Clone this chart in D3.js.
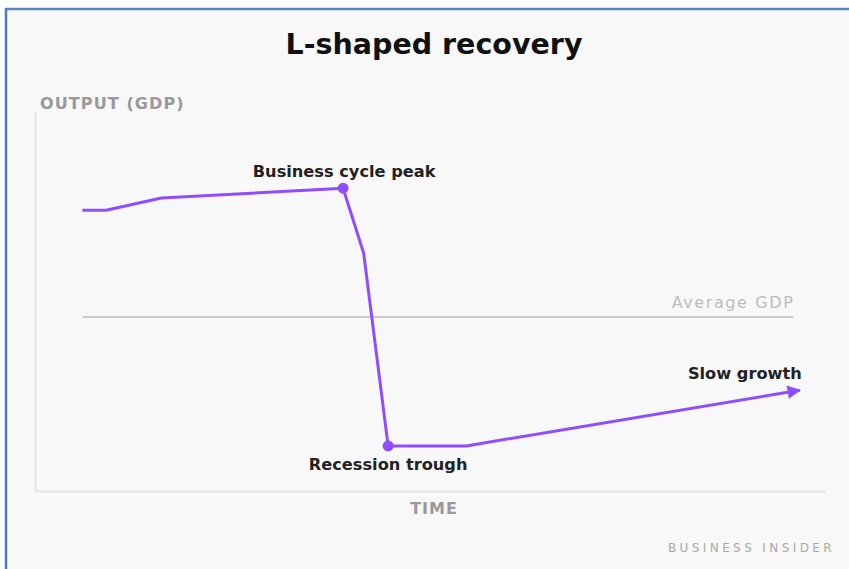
<!DOCTYPE html>
<html>
<head>
<meta charset="utf-8">
<script src="https://cdnjs.cloudflare.com/ajax/libs/d3/7.8.5/d3.min.js"></script>
<style>
  html, body { margin: 0; padding: 0; background: #fff; }
  svg { display: block; }
</style>
</head>
<body>
<div id="chart"></div>
<script>
// time runs 0..100 along the axis, output (GDP) 0..100 up the axis
var timeValues = [6, 9, 16, 39, 41.6, 44.7, 54.6, 96.8];
var gdpValues = [74.1, 74.1, 77.3, 79.9, 62.8, 11.9, 11.9, 26.6];
var averageGdp = 45.9;
var averageSpan = [6, 96];
var peakIndex = 3;
var troughIndex = 5;
var titleText = 'L-shaped recovery';
var yLabel = 'OUTPUT (GDP)';
var xLabel = 'TIME';
var sourceText = 'BUSINESS INSIDER';

var width = 849, height = 569;
var purple = '#8f4dff';
var fontFam = '"DejaVu Sans", sans-serif';

var svg = d3.select('#chart').append('svg')
  .attr('width', width).attr('height', height);

// frame of the screenshot
svg.append('rect').attr('x', 5).attr('y', 8).attr('width', width - 5).attr('height', height - 8)
  .attr('fill', '#f8f8f8');
svg.append('line').attr('x1', 5).attr('x2', width).attr('y1', 9).attr('y2', 9)
  .attr('stroke', '#5b86c4').attr('stroke-width', 2.5);
svg.append('line').attr('x1', 6).attr('x2', 6).attr('y1', 8).attr('y2', height)
  .attr('stroke', '#4a7cc0').attr('stroke-width', 2.5);

var x = d3.scaleLinear().domain([0, 100]).range([35, 825]);
var y = d3.scaleLinear().domain([0, 100]).range([491, 112]);

var points = timeValues.map(function (t, i) { return [t, gdpValues[i]]; });

// axes drawn as plain lines, no ticks
svg.append('g').attr('transform', 'translate(0,' + y(0) + ')')
  .call(d3.axisBottom(x).ticks(0).tickSize(0))
  .call(function (g) { g.select('.domain').attr('stroke', '#e4e4e4').attr('stroke-width', 2); });
svg.append('g').attr('transform', 'translate(' + x(0) + ',0)')
  .call(d3.axisLeft(y).ticks(0).tickSize(0))
  .call(function (g) { g.select('.domain').attr('stroke', '#e4e4e4').attr('stroke-width', 2); });

// average GDP reference line
svg.append('line')
  .attr('x1', x(averageSpan[0])).attr('x2', x(averageSpan[1]))
  .attr('y1', y(averageGdp)).attr('y2', y(averageGdp))
  .attr('stroke', '#bdbdbd').attr('stroke-width', 1.5);
svg.append('text')
  .attr('x', x(averageSpan[1]) + 1).attr('y', y(averageGdp) - 9)
  .attr('text-anchor', 'end')
  .style('font', '500 16px ' + fontFam)
  .style('letter-spacing', '1.6px')
  .attr('fill', '#bdbdbd')
  .text('Average GDP');

// arrow head
svg.append('defs').append('marker')
  .attr('id', 'arrow').attr('viewBox', '0 0 10 10')
  .attr('refX', 9).attr('refY', 5)
  .attr('markerWidth', 5).attr('markerHeight', 4.5)
  .attr('markerUnits', 'strokeWidth')
  .attr('orient', 'auto')
  .append('path').attr('d', 'M0,0L10,5L0,10Z').attr('fill', purple);

var line = d3.line().x(function (d) { return x(d[0]); }).y(function (d) { return y(d[1]); });

svg.append('path')
  .datum(points)
  .attr('d', line)
  .attr('fill', 'none')
  .attr('stroke', purple)
  .attr('stroke-width', 3)
  .attr('stroke-linejoin', 'round')
  .attr('marker-end', 'url(#arrow)');

svg.selectAll('circle.dot')
  .data([points[peakIndex], points[troughIndex]])
  .enter().append('circle')
  .attr('class', 'dot')
  .attr('cx', function (d) { return x(d[0]); })
  .attr('cy', function (d) { return y(d[1]); })
  .attr('r', 5.5)
  .attr('fill', purple);

var labelFont = 'bold 16.2px ' + fontFam;
svg.append('text')
  .attr('x', x(points[peakIndex][0]) + 1).attr('y', y(points[peakIndex][1]) - 11)
  .attr('text-anchor', 'middle').style('font', labelFont).attr('fill', '#222')
  .text('Business cycle peak');
svg.append('text')
  .attr('x', x(points[troughIndex][0])).attr('y', y(points[troughIndex][1]) + 24)
  .attr('text-anchor', 'middle').style('font', labelFont).attr('fill', '#222')
  .text('Recession trough');
var last = points[points.length - 1];
svg.append('text')
  .attr('x', x(last[0]) + 2).attr('y', y(last[1]) - 11)
  .attr('text-anchor', 'end').style('font', labelFont).attr('fill', '#222')
  .text('Slow growth');

// titles
svg.append('text')
  .attr('x', 434).attr('y', 54)
  .attr('text-anchor', 'middle')
  .style('font', 'bold 28.5px ' + fontFam)
  .attr('fill', '#111')
  .text(titleText);
svg.append('text')
  .attr('x', 40).attr('y', 109)
  .style('font', 'bold 16px ' + fontFam)
  .style('letter-spacing', '1.1px')
  .attr('fill', '#999')
  .text(yLabel);
svg.append('text')
  .attr('x', 434).attr('y', 514)
  .attr('text-anchor', 'middle')
  .style('font', 'bold 16px ' + fontFam)
  .style('letter-spacing', '1px')
  .attr('fill', '#999')
  .text(xLabel);
svg.append('text')
  .attr('x', 835).attr('y', 552)
  .attr('text-anchor', 'end')
  .style('font', '12px ' + fontFam)
  .style('letter-spacing', '3.4px')
  .attr('fill', '#a9a9a9')
  .text(sourceText);
</script>
</body>
</html>
